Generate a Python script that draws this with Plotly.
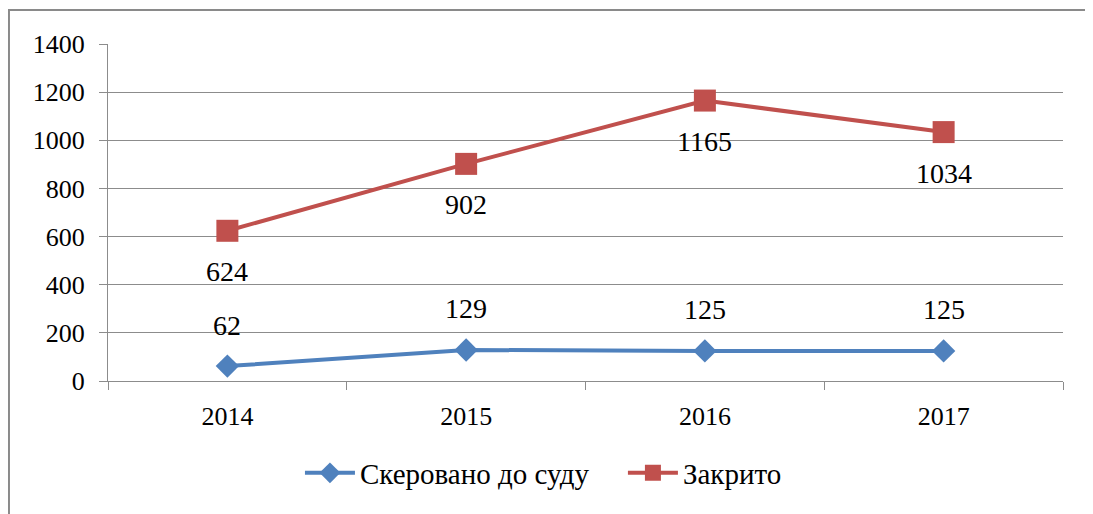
import plotly.graph_objects as go

years = ["2014", "2015", "2016", "2017"]
sent_to_court = [62, 129, 125, 125]
closed = [624, 902, 1165, 1034]
y_ticks = [0, 200, 400, 600, 800, 1000, 1200, 1400]

BLUE = "#4F81BD"
RED = "#C0504D"
GRID = "#8C8C8C"
FONT = "Liberation Serif, Times New Roman, serif"

fig = go.Figure()
fig.add_trace(go.Scatter(
    x=years, y=sent_to_court, name="Скеровано до суду\u00a0\u00a0\u00a0\u00a0", mode="lines+markers",
    line=dict(color=BLUE, width=4),
    marker=dict(symbol="diamond", size=18, color=BLUE),
))
fig.add_trace(go.Scatter(
    x=years, y=closed, name="Закрито", mode="lines+markers",
    line=dict(color=RED, width=4),
    marker=dict(symbol="square", size=22, color=RED),
))

annotations = []
for i, yv in enumerate(sent_to_court):
    annotations.append(dict(x=i, y=yv, xref="x", yref="y", text=str(yv), showarrow=False,
                            yanchor="middle", yshift=41,
                            font=dict(family=FONT, size=28, color="#000")))
for i, yv in enumerate(closed):
    annotations.append(dict(x=i, y=yv, xref="x", yref="y", text=str(yv), showarrow=False,
                            yanchor="middle", yshift=-41,
                            font=dict(family=FONT, size=28, color="#000")))

fig.update_layout(
    width=1085, height=506,
    margin=dict(l=100, r=30, t=36, b=133),
    paper_bgcolor="white", plot_bgcolor="white",
    font=dict(family=FONT, size=26, color="#000"),
    showlegend=True,
    legend=dict(orientation="h", x=0.201, xanchor="left", y=-0.273, yanchor="middle",
                font=dict(family=FONT, size=29, color="#000"), itemwidth=50,
                tracegroupgap=0, bgcolor="rgba(0,0,0,0)"),
    annotations=annotations,
    shapes=[dict(type="rect", xref="paper", yref="paper", x0=-0.1037, x1=1.06,
                 y0=-0.5, y1=1.1009, line=dict(color="#8A8A8A", width=2),
                 fillcolor="rgba(0,0,0,0)", layer="below")],
)
fig.update_xaxes(
    type="category", range=[-0.5, 3.5], tickson="boundaries", ticks="outside",
    ticklen=8, tickcolor=GRID, showline=True, linecolor=GRID, linewidth=1,
    showgrid=False, tickfont=dict(family=FONT, size=26), ticklabelstandoff=12,
)
fig.update_yaxes(
    range=[0, 1400], tickvals=y_ticks, ticks="outside", ticklen=8, tickcolor=GRID,
    showline=True, linecolor=GRID, linewidth=1, showgrid=True, gridcolor=GRID,
    gridwidth=1, zeroline=False, tickfont=dict(family=FONT, size=26), ticklabelstandoff=9,
)
fig.write_html("out.html")
